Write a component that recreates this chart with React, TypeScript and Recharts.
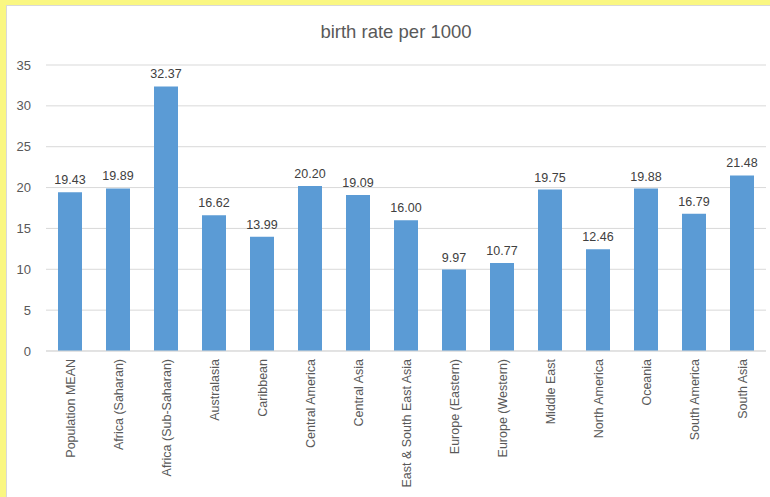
import { BarChart, Bar, XAxis, YAxis, CartesianGrid } from 'recharts';

const regions = [
  'Population MEAN',
  'Africa (Saharan)',
  'Africa (Sub-Saharan)',
  'Australasia',
  'Caribbean',
  'Central America',
  'Central Asia',
  'East & South East Asia',
  'Europe (Eastern)',
  'Europe (Western)',
  'Middle East',
  'North America',
  'Oceania',
  'South America',
  'South Asia',
];

const birthRates = [
  19.43, 19.89, 32.37, 16.62, 13.99, 20.2, 19.09, 16.0, 9.97, 10.77, 19.75, 12.46, 19.88, 16.79, 21.48,
];

const yTicks = [0, 5, 10, 15, 20, 25, 30, 35];

const data = regions.map((region, i) => ({ region, value: birthRates[i] }));

const font = '"Liberation Sans", Arial, sans-serif';

function RegionTick(props: any) {
  const { x, y, payload } = props;
  return (
    <g transform={`translate(${x},${y}) rotate(-90)`}>
      <text
        x={0}
        y={0}
        dy={4.5}
        textAnchor="end"
        fill="#595959"
        fontSize={12.5}
        fontFamily={font}
      >
        {payload.value}
      </text>
    </g>
  );
}

function ValueLabel(props: any) {
  const { x, y, width, value } = props;
  return (
    <text
      x={x + width / 2}
      y={y - 8}
      textAnchor="middle"
      fill="#404040"
      fontSize={12.5}
      fontFamily={font}
    >
      {Number(value).toFixed(2)}
    </text>
  );
}

export default function App() {
  return (
    <div
      style={{
        position: 'fixed',
        left: 0,
        top: 0,
        width: 770,
        height: 497,
        background: '#FAF782',
        overflow: 'hidden',
      }}
    >
      <div
        style={{
          position: 'absolute',
          left: 6,
          top: 5,
          width: 770,
          height: 497,
          background: '#fff',
          borderLeft: '1px solid #d9d9d9',
          borderTop: '1px solid #d9d9d9',
          boxSizing: 'border-box',
        }}
      >
        <div
          style={{
            position: 'absolute',
            left: 0,
            top: 15,
            width: 778,
            textAlign: 'center',
            fontFamily: font,
            fontSize: 18.5,
            color: '#595959',
          }}
        >
          birth rate per 1000
        </div>
        <BarChart
          width={764}
          height={492}
          data={data}
          margin={{ top: 59, right: 5, left: 0, bottom: 2 }}
          barCategoryGap="25%"
        >
          <CartesianGrid vertical={false} stroke="#d9d9d9" />
          <XAxis
            dataKey="region"
            interval={0}
            tickLine={false}
            axisLine={{ stroke: '#d9d9d9' }}
            height={145}
            tick={<RegionTick />}
          />
          <YAxis
            domain={[0, 35]}
            ticks={yTicks}
            width={39}
            tickLine={false}
            axisLine={false}
            tickMargin={9}
            tick={{ fill: '#595959', fontSize: 13, fontFamily: font }}
          />
          <Bar
            dataKey="value"
            fill="#5B9BD5"
            isAnimationActive={false}
            label={<ValueLabel />}
          />
        </BarChart>
      </div>
    </div>
  );
}
